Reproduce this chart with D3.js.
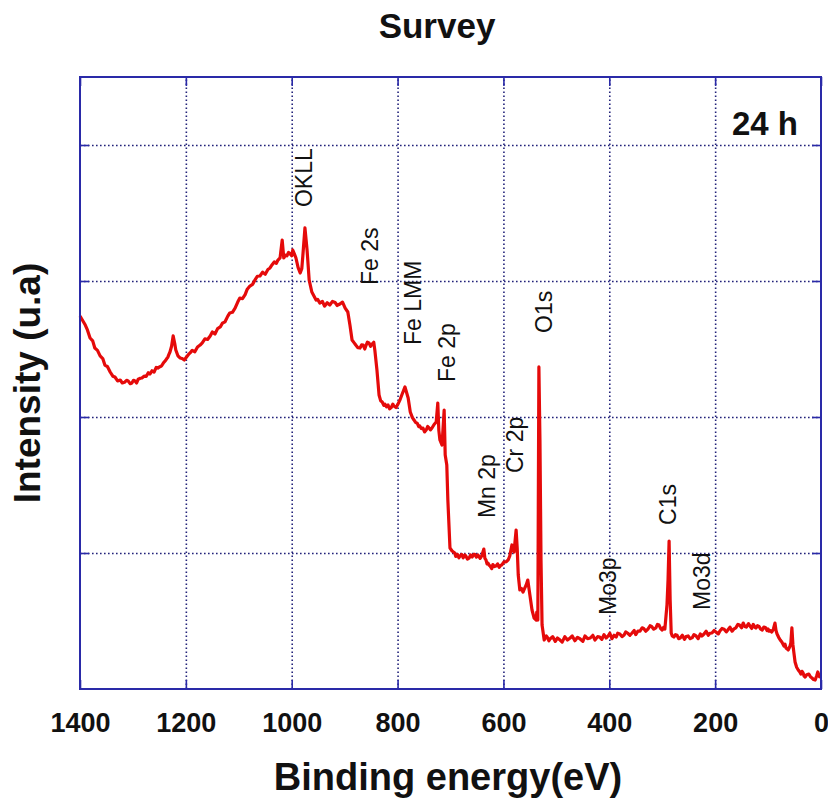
<!DOCTYPE html>
<html>
<head>
<meta charset="utf-8">
<script src="https://cdn.jsdelivr.net/npm/d3@7"></script>
<style>
  html, body { margin: 0; padding: 0; background: #fff; }
  svg { display: block; font-family: "Liberation Sans", Arial, sans-serif; }
</style>
</head>
<body>
<svg id="chart" width="828" height="804"></svg>
<script>
// XPS survey spectrum: [binding energy (eV), intensity (arbitrary units)]
const spectrum = [
  [1400, 2.743], [1395, 2.71], [1390, 2.676], [1386, 2.64], [1381, 2.581], [1376, 2.56], [1372, 2.507],
  [1367, 2.49], [1362, 2.449], [1357, 2.43], [1353, 2.382], [1348, 2.37], [1343, 2.331], [1338, 2.30],
  [1334, 2.294], [1329, 2.265], [1324, 2.272], [1320, 2.25], [1316, 2.255], [1312, 2.27], [1309, 2.265],
  [1305, 2.245], [1302, 2.25], [1299, 2.27], [1296, 2.265], [1293, 2.25], [1290, 2.278], [1286, 2.285],
  [1283, 2.287], [1279, 2.30], [1275, 2.298], [1271, 2.325], [1268, 2.316], [1264, 2.34], [1260, 2.33],
  [1256, 2.365], [1253, 2.36], [1249, 2.37], [1246, 2.375], [1242, 2.40], [1239, 2.412], [1236, 2.43],
  [1234, 2.44], [1232, 2.46], [1230, 2.478], [1227, 2.52], [1224, 2.596], [1221, 2.54], [1219, 2.493],
  [1215, 2.45], [1211, 2.434], [1207, 2.43], [1203, 2.419], [1198, 2.445], [1195, 2.46], [1192, 2.471],
  [1188, 2.49], [1183, 2.48], [1178, 2.515], [1173, 2.529], [1169, 2.545], [1164, 2.575], [1159, 2.57],
  [1154, 2.596], [1150, 2.625], [1145, 2.61], [1140, 2.65], [1135, 2.662], [1131, 2.69], [1126, 2.70],
  [1121, 2.74], [1117, 2.765], [1112, 2.77], [1107, 2.80], [1102, 2.845], [1098, 2.875], [1093, 2.87],
  [1088, 2.90], [1084, 2.94], [1079, 2.963], [1074, 2.975], [1069, 3.01], [1065, 3.035], [1060, 3.037],
  [1055, 3.065], [1050, 3.05], [1045, 3.085], [1041, 3.096], [1037, 3.12], [1033, 3.14], [1029, 3.13],
  [1026, 3.154], [1022, 3.17], [1018, 3.301], [1015, 3.169], [1012, 3.19], [1009, 3.185], [1006, 3.21],
  [1003, 3.199], [1000, 3.185], [998, 3.228], [995, 3.20], [992, 3.169], [988, 3.10], [984, 3.059],
  [981, 3.09], [979, 3.184], [975, 3.39], [971, 3.228], [967, 3.007], [962, 2.919], [958, 2.89],
  [954, 2.86], [951, 2.865], [947, 2.838], [942, 2.85], [938, 2.815], [933, 2.84], [928, 2.824],
  [923, 2.85], [918, 2.842], [914, 2.82], [909, 2.831], [904, 2.845], [899, 2.801], [894, 2.772],
  [890, 2.676], [886, 2.566], [882, 2.545], [879, 2.529], [875, 2.51], [871, 2.507], [868, 2.53],
  [865, 2.528], [862, 2.50], [860, 2.522], [857, 2.55], [854, 2.545], [851, 2.52], [848, 2.537],
  [845, 2.55], [843, 2.493], [839, 2.346], [835, 2.162], [832, 2.12], [829, 2.11], [826, 2.085],
  [824, 2.095], [821, 2.075], [818, 2.088], [815, 2.06], [812, 2.07], [809, 2.095], [807, 2.081],
  [803, 2.07], [799, 2.096], [795, 2.13], [792, 2.162], [786, 2.221], [783, 2.18], [780, 2.14],
  [776, 2.037], [772, 1.995], [769, 1.978], [766, 1.96], [763, 1.955], [760, 1.93], [758, 1.934],
  [755, 1.915], [752, 1.918], [749, 1.89], [746, 1.904], [743, 1.93], [741, 1.922], [738, 1.905],
  [735, 1.919], [731, 1.945], [727, 1.963], [724, 2.103], [722, 1.90], [720, 1.831], [716, 1.794],
  [712, 2.051], [710, 1.721], [707, 1.647], [705, 1.39], [701, 1.037], [697, 1.015], [692, 1.00],
  [690, 0.975], [687, 0.99], [684, 0.965], [682, 0.978], [679, 0.99], [676, 0.965], [673, 0.985],
  [671, 0.978], [668, 0.955], [665, 0.962], [662, 0.985], [659, 0.971], [656, 0.99], [654, 0.99],
  [651, 0.97], [648, 0.985], [644, 0.96], [641, 0.978], [637, 1.029], [635, 0.96], [633, 0.949],
  [631, 0.92], [629, 0.925], [627, 0.91], [625, 0.904], [622, 0.885], [620, 0.915], [617, 0.90],
  [614, 0.904], [611, 0.92], [608, 0.895], [605, 0.91], [603, 0.912], [599, 0.935], [595, 0.934],
  [591, 0.95], [588, 0.978], [584, 1.059], [580, 1.007], [576, 1.169], [574, 1.037], [572, 0.838],
  [569, 0.728], [566, 0.74], [563, 0.713], [560, 0.74], [557, 0.765], [554, 0.801], [550, 0.691],
  [546, 0.581], [542, 0.522], [538, 0.507], [537, 0.566], [535, 0.507], [533, 2.368], [531, 1.831],
  [529, 0.949], [527, 0.471], [523, 0.36], [519, 0.39], [517, 0.38], [514, 0.355], [512, 0.368],
  [507, 0.385], [502, 0.35], [498, 0.375], [493, 0.36], [489, 0.345], [484, 0.385], [479, 0.36],
  [474, 0.375], [470, 0.39], [465, 0.355], [460, 0.38], [455, 0.368], [450, 0.35], [446, 0.39],
  [441, 0.37], [436, 0.375], [431, 0.395], [427, 0.36], [422, 0.385], [418, 0.382], [414, 0.365],
  [410, 0.40], [406, 0.375], [402, 0.39], [399, 0.41], [395, 0.37], [391, 0.395], [387, 0.382],
  [384, 0.41], [380, 0.405], [376, 0.385], [372, 0.397], [369, 0.42], [365, 0.41], [361, 0.395],
  [357, 0.412], [353, 0.43], [350, 0.40], [346, 0.425], [342, 0.426], [338, 0.45], [335, 0.445],
  [331, 0.425], [327, 0.441], [323, 0.465], [320, 0.46], [316, 0.44], [312, 0.449], [309, 0.475],
  [306, 0.47], [303, 0.445], [300, 0.434], [297, 0.455], [295, 0.441], [291, 0.618], [289, 0.801],
  [287, 1.088], [285, 0.654], [283, 0.412], [281, 0.39], [278, 0.382], [275, 0.40], [272, 0.395],
  [269, 0.37], [266, 0.375], [262, 0.395], [258, 0.365], [255, 0.385], [251, 0.39], [247, 0.37],
  [243, 0.378], [240, 0.40], [236, 0.39], [232, 0.37], [228, 0.405], [225, 0.39], [221, 0.404],
  [217, 0.425], [213, 0.395], [210, 0.41], [206, 0.412], [202, 0.43], [198, 0.418], [194, 0.405],
  [191, 0.426], [187, 0.445], [183, 0.44], [179, 0.42], [176, 0.434], [172, 0.455], [168, 0.425],
  [165, 0.44], [161, 0.449], [157, 0.475], [154, 0.47], [150, 0.45], [147, 0.485], [144, 0.46],
  [141, 0.455], [137, 0.48], [134, 0.463], [131, 0.445], [128, 0.475], [125, 0.455], [123, 0.449],
  [120, 0.465], [117, 0.46], [114, 0.44], [111, 0.434], [108, 0.455], [105, 0.452], [102, 0.43],
  [100, 0.441], [98, 0.425], [96, 0.43], [93, 0.419], [90, 0.44], [87, 0.485], [85, 0.43],
  [83, 0.404], [80, 0.38], [77, 0.36], [74, 0.345], [70, 0.316], [68, 0.33], [66, 0.30],
  [64, 0.295], [62, 0.287], [59, 0.31], [57, 0.338], [55, 0.449], [53, 0.324], [51, 0.26],
  [49, 0.199], [46, 0.16], [43, 0.14], [40, 0.125], [38, 0.11], [36, 0.13], [34, 0.12],
  [32, 0.095], [30, 0.088], [27, 0.105], [23, 0.11], [20, 0.09], [17, 0.081], [14, 0.07],
  [11, 0.066], [8, 0.10], [6, 0.125], [3, 0.09], [0, 0.096]
];

// Axis ticks
const xTicks = [1400, 1200, 1000, 800, 600, 400, 200, 0];
const yTicks = [1, 2, 3, 4];

// Peak assignments drawn as vertical labels (position: energy, intensity level)
const peakLabels = ["OKLL", "Fe 2s", "Fe LMM", "Fe 2p", "O1s", "Mn 2p", "Cr 2p", "Mo3p", "C1s", "Mo3d"];
const peakEnergy = [962, 837, 756, 691, 508, 616, 563, 387, 274, 210];
const peakLevel = [3.544, 2.971, 2.529, 2.257, 2.618, 1.257, 1.588, 0.544, 1.206, 0.581];

const title = "Survey";
const xTitle = "Binding energy(eV)";
const yTitle = "Intensity (u.a)";
const sampleLabel = "24 h";

const svg = d3.select("#chart");
const plot = { left: 80, right: 821, top: 77, bottom: 689 };

const x = d3.scaleLinear().domain([1400, 0]).range([plot.left, plot.right]);
const y = d3.scaleLinear().domain([0, 4.5]).range([plot.bottom, plot.top]);

const frameColor = "#2a2aa8";
const gridColor = "#22227a";

// Dotted grid
svg.append("g")
  .attr("transform", `translate(0,${plot.bottom})`)
  .call(d3.axisBottom(x).tickValues(xTicks.slice(1, -1)).tickSize(-(plot.bottom - plot.top)).tickFormat(""))
  .call(g => g.select(".domain").remove())
  .call(g => g.selectAll("line").attr("stroke", gridColor).attr("stroke-width", 1.6).attr("stroke-dasharray", "1.6,2.4"));
svg.append("g")
  .attr("transform", `translate(${plot.left},0)`)
  .call(d3.axisLeft(y).tickValues(yTicks).tickSize(-(plot.right - plot.left)).tickFormat(""))
  .call(g => g.select(".domain").remove())
  .call(g => g.selectAll("line").attr("stroke", gridColor).attr("stroke-width", 1.6).attr("stroke-dasharray", "1.6,2.4"));

// Inner tick marks on all four sides
const tickLen = 9;
function styleTicks(g) {
  g.select(".domain").remove();
  g.selectAll("line").attr("stroke", frameColor).attr("stroke-width", 1.6);
}
svg.append("g")
  .attr("transform", `translate(0,${plot.bottom})`)
  .call(d3.axisBottom(x).tickValues(xTicks).tickFormat(d3.format("d"))
    .tickSizeInner(-tickLen).tickSizeOuter(0).tickPadding(24))
  .call(styleTicks)
  .call(g => g.selectAll("text")
    .attr("fill", "#111")
    .style("font-size", "27px")
    .style("font-weight", "bold")
    .style("font-family", "'Liberation Sans', Arial, sans-serif"));
svg.append("g")
  .attr("transform", `translate(0,${plot.top})`)
  .call(d3.axisTop(x).tickValues(xTicks).tickSizeInner(-tickLen).tickSizeOuter(0).tickFormat(""))
  .call(styleTicks);
svg.append("g")
  .attr("transform", `translate(${plot.left},0)`)
  .call(d3.axisLeft(y).tickValues(yTicks).tickSizeInner(-tickLen).tickSizeOuter(0).tickFormat(""))
  .call(styleTicks);
svg.append("g")
  .attr("transform", `translate(${plot.right},0)`)
  .call(d3.axisRight(y).tickValues(yTicks).tickSizeInner(-tickLen).tickSizeOuter(0).tickFormat(""))
  .call(styleTicks);

// Spectrum
svg.append("path")
  .datum(spectrum)
  .attr("fill", "none")
  .attr("stroke", "#e50a0a")
  .attr("stroke-width", 3.2)
  .attr("stroke-linejoin", "round")
  .attr("d", d3.line().x(d => x(d[0])).y(d => y(d[1])));

// Frame
svg.append("rect")
  .attr("x", plot.left).attr("y", plot.top)
  .attr("width", plot.right - plot.left).attr("height", plot.bottom - plot.top)
  .attr("fill", "none").attr("stroke", frameColor).attr("stroke-width", 2);

// Peak labels
svg.append("g").selectAll("text")
  .data(peakLabels)
  .join("text")
  .attr("transform", (d, i) => `translate(${x(peakEnergy[i])},${y(peakLevel[i])}) rotate(-90)`)
  .attr("fill", "#111")
  .style("font-size", "23px")
  .text(d => d);

// Titles
svg.append("text")
  .attr("x", 437).attr("y", 38)
  .attr("text-anchor", "middle")
  .style("font-size", "35px").style("font-weight", "bold").attr("fill", "#111")
  .text(title);
svg.append("text")
  .attr("x", 448).attr("y", 790)
  .attr("text-anchor", "middle")
  .style("font-size", "38px").style("font-weight", "bold").attr("fill", "#111")
  .text(xTitle);
svg.append("text")
  .attr("transform", `translate(40,${(plot.top + plot.bottom) / 2}) rotate(-90)`)
  .attr("text-anchor", "middle")
  .style("font-size", "37px").style("font-weight", "bold").attr("fill", "#111")
  .text(yTitle);
svg.append("text")
  .attr("x", 798).attr("y", 135)
  .attr("text-anchor", "end")
  .style("font-size", "33px").style("font-weight", "bold").attr("fill", "#111")
  .text(sampleLabel);
</script>
</body>
</html>
